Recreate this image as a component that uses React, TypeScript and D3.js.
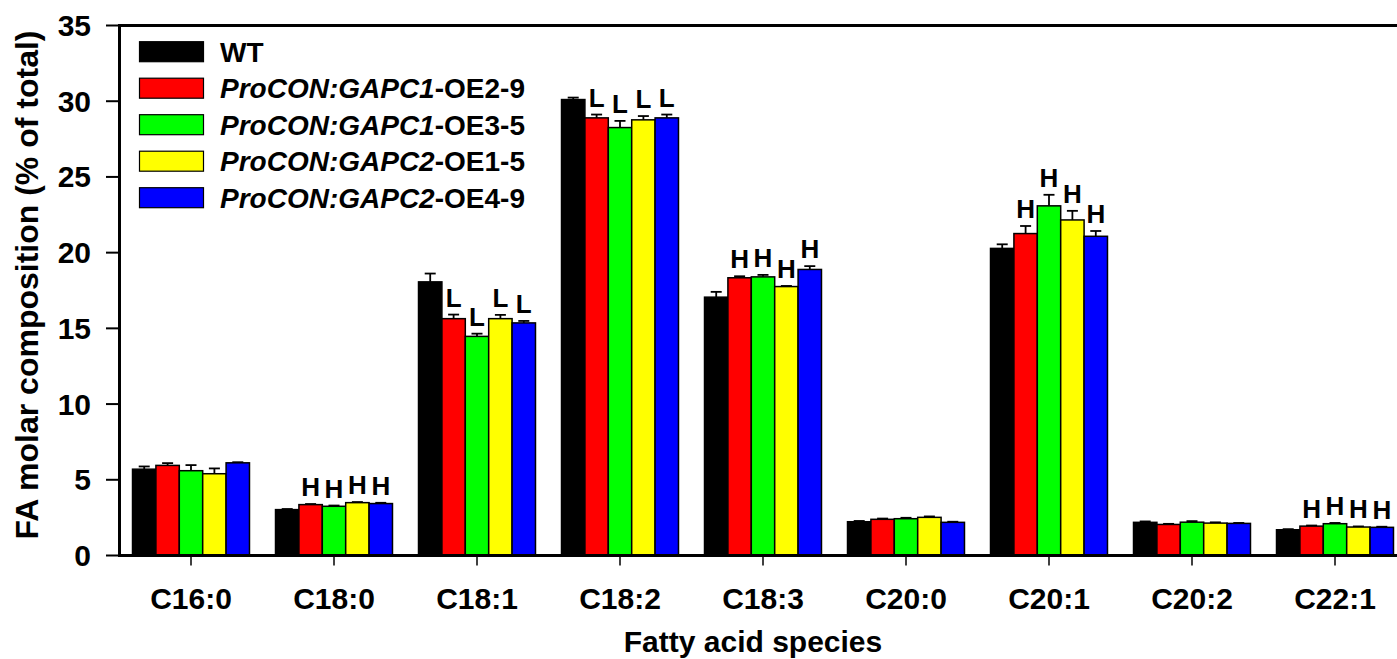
import React from "react";
import * as d3 from "d3";

const categories = ["C16:0", "C18:0", "C18:1", "C18:2", "C18:3", "C20:0", "C20:1", "C20:2", "C22:1"];
const seriesNames = ["WT", "OE2-9", "OE3-5", "OE1-5", "OE4-9"];
const legendItalic = ["", "ProCON:GAPC1", "ProCON:GAPC1", "ProCON:GAPC2", "ProCON:GAPC2"];
const legendPlain = ["WT", "-OE2-9", "-OE3-5", "-OE1-5", "-OE4-9"];
const colors = ["#000000", "#ff0000", "#00ff00", "#ffff00", "#0000ff"];

const valWT = [5.7, 3.03, 18.07, 30.11, 17.06, 2.23, 20.28, 2.19, 1.7];
const valOE29 = [5.95, 3.36, 15.64, 28.9, 18.34, 2.39, 21.26, 2.05, 1.94];
const valOE35 = [5.6, 3.25, 14.47, 28.26, 18.4, 2.43, 23.09, 2.2, 2.1];
const valOE15 = [5.4, 3.49, 15.64, 28.77, 17.76, 2.52, 22.16, 2.14, 1.88];
const valOE49 = [6.12, 3.43, 15.36, 28.9, 18.89, 2.19, 21.08, 2.12, 1.86];

const errWT = [0.18, 0.04, 0.55, 0.13, 0.35, 0.05, 0.27, 0.06, 0.04];
const errOE29 = [0.15, 0.04, 0.27, 0.22, 0.1, 0.05, 0.5, 0.04, 0.04];
const errOE35 = [0.37, 0.05, 0.18, 0.44, 0.13, 0.06, 0.73, 0.07, 0.05];
const errOE15 = [0.35, 0.04, 0.25, 0.25, 0.04, 0.06, 0.6, 0.05, 0.04];
const errOE49 = [0.04, 0.05, 0.13, 0.22, 0.22, 0.04, 0.35, 0.03, 0.04];

const sigTransgenic = ["", "H", "L", "L", "H", "", "H", "", "H"];
const sigWT = ["", "", "", "", "", "", "", "", ""];

const values = [valWT, valOE29, valOE35, valOE15, valOE49];
const errors = [errWT, errOE29, errOE35, errOE15, errOE49];
const sigs = [sigWT, sigTransgenic, sigTransgenic, sigTransgenic, sigTransgenic];

const yTicks = [0, 5, 10, 15, 20, 25, 30, 35];

const W = 1397;
const H = 659;
const FONT = "'Liberation Sans', Arial, Helvetica, sans-serif";

export default function App() {
  const x = d3
    .scaleBand<string>()
    .domain(categories)
    .range([119.5, 1406.5])
    .paddingInner(0.182)
    .paddingOuter(0.091);
  const xs = d3
    .scaleBand<string>()
    .domain(seriesNames)
    .range([0, x.bandwidth()])
    .padding(0);
  const y = d3.scaleLinear().domain([0, 35]).range([555.5, 25.5]);

  const axisLeft = 119.5;
  const capHalf = 5.5;

  return (
    <svg
      width={W}
      height={H}
      style={{ position: "absolute", left: 0, top: 0, background: "#fff" }}
      fontFamily={FONT}
    >
      <rect x={0} y={0} width={W} height={H} fill="#fff" />
      {/* bars */}
      {categories.map((c, ci) => (
        <g key={c} transform={`translate(${x(c)},0)`}>
          {seriesNames.map((s, si) => {
            const v = values[si][ci];
            const e = errors[si][ci];
            const bx = xs(s)!;
            const bw = xs.bandwidth();
            const cx = bx + bw / 2;
            const label = sigs[si][ci];
            return (
              <g key={s}>
                <line x1={cx} x2={cx} y1={y(v)} y2={y(v + e)} stroke="#000" strokeWidth={1.8} />
                <line x1={cx - capHalf} x2={cx + capHalf} y1={y(v + e)} y2={y(v + e)} stroke="#000" strokeWidth={1.8} />
                <rect x={bx} y={y(v)} width={bw} height={y(0) - y(v)} fill={colors[si]} stroke="#000" strokeWidth={1.5} />
                {label && (
                  <text
                    x={cx}
                    y={y(v + e) - 8}
                    textAnchor="middle"
                    fontSize={26}
                    fontWeight="bold"
                    fill="#000"
                  >
                    {label}
                  </text>
                )}
              </g>
            );
          })}
        </g>
      ))}

      {/* frame lines */}
      <line x1={axisLeft} x2={1406} y1={y(35)} y2={y(35)} stroke="#000" strokeWidth={3} />
      <line x1={axisLeft - 1} x2={1406} y1={y(0)} y2={y(0)} stroke="#000" strokeWidth={3} />
      <line x1={axisLeft} x2={axisLeft} y1={y(35) - 1.5} y2={y(0) + 1.5} stroke="#000" strokeWidth={3} />

      {/* y ticks */}
      {yTicks.map((t) => (
        <g key={t}>
          <line x1={106} x2={axisLeft} y1={y(t)} y2={y(t)} stroke="#000" strokeWidth={2} />
          <text x={91} y={y(t) + 10.5} textAnchor="end" fontSize={30} fontWeight="bold" fill="#000">
            {t}
          </text>
        </g>
      ))}

      {/* x ticks */}
      {categories.map((c) => {
        const cx = x(c)! + x.bandwidth() / 2;
        return (
          <g key={c}>
            <line x1={cx} x2={cx} y1={y(0)} y2={y(0) + 10} stroke="#000" strokeWidth={1.5} />
            <text x={cx} y={609} textAnchor="middle" fontSize={30} fontWeight="bold" fill="#000">
              {c}
            </text>
          </g>
        );
      })}

      {/* axis titles */}
      <text x={753} y={652} textAnchor="middle" fontSize={30} fontWeight="bold" fill="#000">
        Fatty acid species
      </text>
      <text
        transform={`translate(38,${285}) rotate(-90)`}
        textAnchor="middle"
        fontSize={32}
        fontWeight="bold"
        fill="#000"
      >
        FA molar composition (% of total)
      </text>

      {/* legend */}
      {seriesNames.map((s, i) => {
        const cy = 51.7 + i * 36.5;
        return (
          <g key={s}>
            <rect x={139.5} y={cy - 10} width={64} height={20} fill={colors[i]} stroke="#000" strokeWidth={1.2} />
            <text x={220} y={cy + 10} fontSize={28} fontWeight="bold" fill="#000">
              {legendItalic[i] && <tspan fontStyle="italic">{legendItalic[i]}</tspan>}
              <tspan>{legendPlain[i]}</tspan>
            </text>
          </g>
        );
      })}
    </svg>
  );
}
